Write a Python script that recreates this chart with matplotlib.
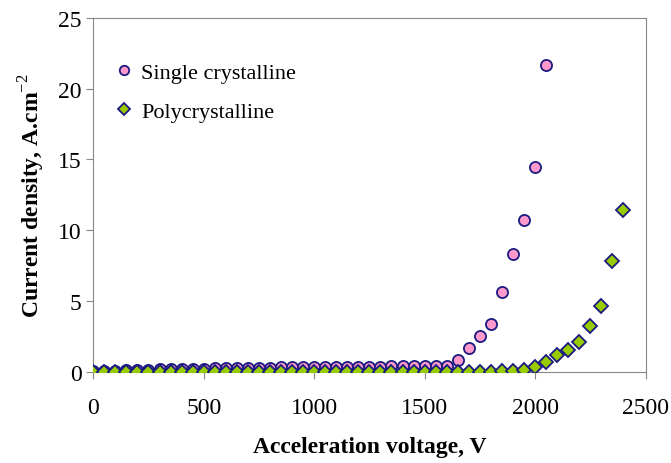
import matplotlib
matplotlib.use("Agg")
import matplotlib.pyplot as plt

# Single crystalline emitter
x_single = [0, 50, 100, 150, 200, 250, 300, 350, 400, 450, 500, 550, 600, 650, 700,
            750, 800, 850, 900, 950, 1000, 1050, 1100, 1150, 1200, 1250, 1300, 1350,
            1400, 1450, 1500, 1550, 1600, 1650, 1700, 1750, 1800, 1850, 1900, 1950,
            2000, 2050]
j_single = [0.02, 0.05, 0.06, 0.08, 0.1, 0.12, 0.15, 0.17, 0.18, 0.2, 0.2, 0.22, 0.22,
            0.24, 0.25, 0.26, 0.28, 0.3, 0.3, 0.3, 0.32, 0.32, 0.33, 0.33, 0.33, 0.34,
            0.36, 0.38, 0.38, 0.4, 0.4, 0.4, 0.4, 0.8, 1.65, 2.5, 3.35, 5.6, 8.3,
            10.75, 14.45, 21.65]

# Polycrystalline emitter
x_poly = [0, 50, 100, 150, 200, 250, 300, 350, 400, 450, 500, 550, 600, 650, 700,
          750, 800, 850, 900, 950, 1000, 1050, 1100, 1150, 1200, 1250, 1300, 1350,
          1400, 1450, 1500, 1550, 1600, 1650, 1700, 1750, 1800, 1850, 1900, 1950,
          2000, 2050, 2100, 2150, 2200, 2250, 2300, 2350, 2400]
j_poly = [0, 0, 0, 0, 0, 0, 0, 0, 0, 0, 0, 0, 0, 0, 0, 0, 0, 0, 0, 0, 0, 0, 0, 0, 0,
          0, 0, 0, 0, 0, 0, 0, 0, 0, 0, 0, 0, 0.02, 0.05, 0.1, 0.3, 0.65, 1.15, 1.55,
          2.1, 3.2, 4.65, 7.8, 11.45]

plt.rcParams['font.family'] = ['Liberation Serif', 'DejaVu Serif']
plt.rcParams['mathtext.fontset'] = 'custom'
plt.rcParams['mathtext.rm'] = 'Liberation Serif'
plt.rcParams['mathtext.bf'] = 'Liberation Serif:bold'

fig = plt.figure(figsize=(6.71, 4.64), dpi=100)
ax = fig.add_axes([0.139, 0.197, 0.823, 0.762])

ax.plot(x_single, j_single, 'o', ms=8, mfc='#ff99cc', mec='#1a1a80', mew=1.3,
        label='Single crystalline', zorder=3)
ax.plot(x_poly, j_poly, 'D', ms=7, mfc='#99cc00', mec='#1a1a80', mew=1.3,
        label='Polycrystalline', zorder=4)

ax.set_xlim(0, 2500)
ax.set_ylim(0, 25)
ax.set_xticks([0, 500, 1000, 1500, 2000, 2500])
ax.set_yticks([0, 5, 10, 15, 20, 25])

for s in ax.spines.values():
    s.set_color('#888888')
ax.tick_params(colors='#888888', labelcolor='black', labelsize=17, length=5,
               direction='out')
ax.tick_params(axis='x', pad=13)

ax.set_xlabel('Acceleration voltage, V', fontsize=17, fontweight='bold', labelpad=13)
ax.set_ylabel('Current density, A.cm$^{\\mathrm{-2}}$', fontsize=17,
              fontweight='bold', labelpad=8)

ax.legend(loc='upper left', bbox_to_anchor=(0.035, 0.875), frameon=False, fontsize=16,
          handlelength=1.0, handletextpad=0.3, labelspacing=0.85, markerscale=0.85,
          borderpad=0, borderaxespad=0)

fig.savefig('out.png', dpi=100)
